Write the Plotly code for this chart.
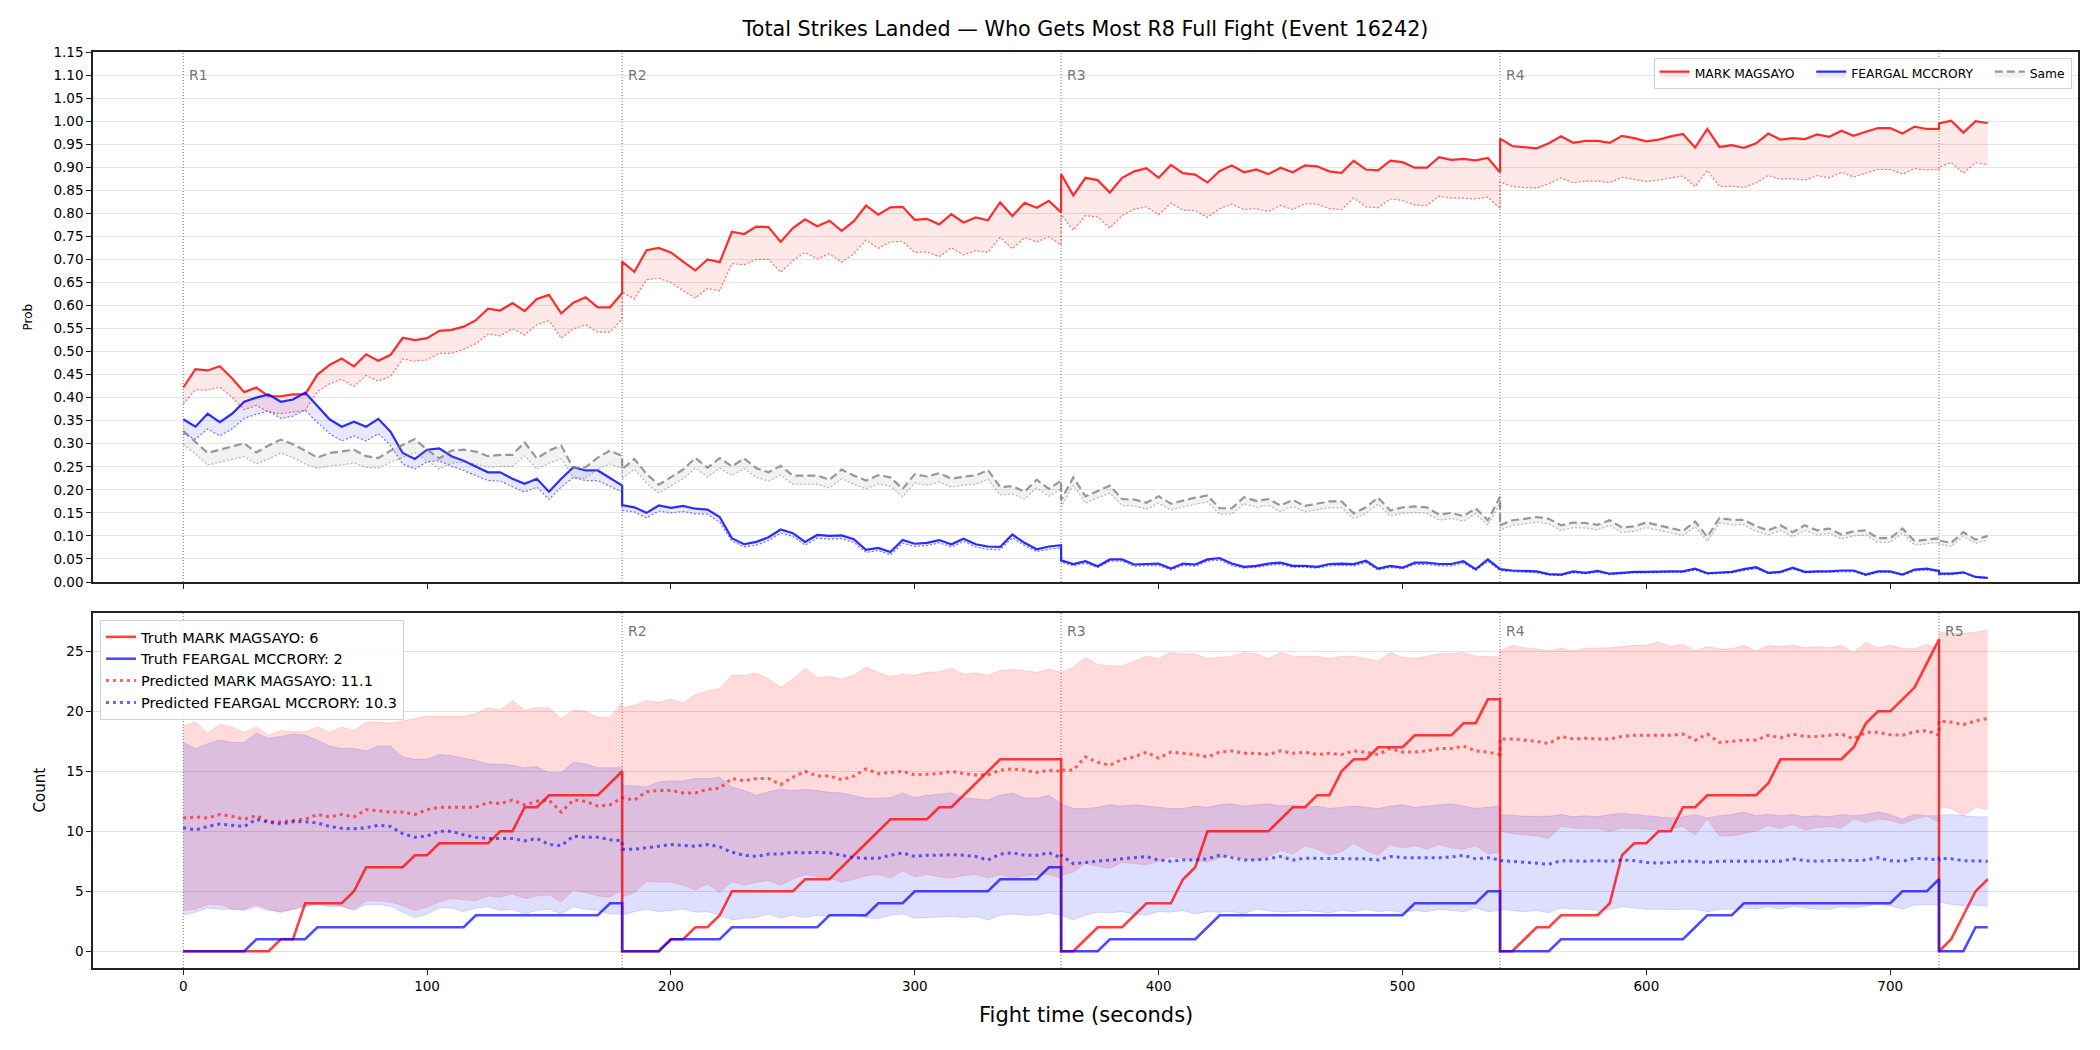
import plotly.graph_objects as go

# ---------------- structure ----------------
ROUND_STARTS = [0, 180, 360, 540, 720]
ROUND_ENDS = [180, 360, 540, 720, 740]
ROUND_LABELS = ["R1", "R2", "R3", "R4", "R5"]
STEP = 5

# ---------------- top panel: probabilities (per round) ----------------
prob_magsayo = [
    [0.422, 0.462, 0.459, 0.468, 0.442, 0.412, 0.422, 0.403, 0.403, 0.407,
     0.407, 0.450, 0.471, 0.485, 0.468, 0.494, 0.480, 0.493, 0.530, 0.525,
     0.529, 0.545, 0.547, 0.554, 0.568, 0.593, 0.589, 0.605, 0.588, 0.614,
     0.623, 0.583, 0.606, 0.618, 0.596, 0.596, 0.627],
    [0.695, 0.673, 0.720, 0.725, 0.715, 0.695, 0.676, 0.700, 0.694, 0.760,
     0.755, 0.771, 0.770, 0.738, 0.768, 0.787, 0.772, 0.784, 0.762, 0.783,
     0.817, 0.797, 0.813, 0.814, 0.786, 0.788, 0.776, 0.798, 0.780, 0.791,
     0.785, 0.824, 0.794, 0.823, 0.812, 0.827, 0.802],
    [0.885, 0.839, 0.877, 0.872, 0.845, 0.877, 0.891, 0.898, 0.877, 0.905,
     0.887, 0.884, 0.867, 0.892, 0.904, 0.889, 0.895, 0.885, 0.899, 0.889,
     0.904, 0.902, 0.891, 0.888, 0.914, 0.895, 0.893, 0.914, 0.911, 0.899,
     0.899, 0.922, 0.916, 0.918, 0.915, 0.920, 0.889],
    [0.962, 0.946, 0.943, 0.941, 0.952, 0.967, 0.953, 0.957, 0.957, 0.953,
     0.968, 0.963, 0.956, 0.960, 0.967, 0.972, 0.943, 0.983, 0.944, 0.948,
     0.942, 0.952, 0.973, 0.960, 0.963, 0.961, 0.971, 0.966, 0.979, 0.968,
     0.977, 0.985, 0.985, 0.973, 0.988, 0.983, 0.983],
    [0.995, 1.001, 0.975, 1.000, 0.996],
]
prob_magsayo_low = [
    [0.386, 0.417, 0.416, 0.423, 0.401, 0.374, 0.383, 0.369, 0.365, 0.369,
     0.372, 0.413, 0.430, 0.440, 0.424, 0.448, 0.436, 0.446, 0.484, 0.479,
     0.482, 0.496, 0.496, 0.505, 0.517, 0.538, 0.534, 0.549, 0.536, 0.558,
     0.567, 0.529, 0.549, 0.558, 0.542, 0.542, 0.571],
    [0.629, 0.614, 0.656, 0.659, 0.650, 0.632, 0.616, 0.637, 0.632, 0.691,
     0.688, 0.700, 0.700, 0.672, 0.697, 0.715, 0.701, 0.712, 0.694, 0.712,
     0.742, 0.724, 0.738, 0.739, 0.715, 0.716, 0.706, 0.725, 0.710, 0.719,
     0.715, 0.748, 0.723, 0.747, 0.738, 0.749, 0.731],
    [0.797, 0.763, 0.795, 0.792, 0.768, 0.795, 0.809, 0.814, 0.797, 0.822,
     0.807, 0.806, 0.791, 0.810, 0.820, 0.808, 0.810, 0.804, 0.817, 0.808,
     0.821, 0.820, 0.810, 0.808, 0.833, 0.814, 0.812, 0.831, 0.828, 0.818,
     0.817, 0.837, 0.833, 0.833, 0.831, 0.835, 0.810],
    [0.868, 0.858, 0.856, 0.855, 0.864, 0.877, 0.866, 0.870, 0.870, 0.867,
     0.878, 0.874, 0.869, 0.872, 0.876, 0.881, 0.858, 0.893, 0.858, 0.859,
     0.856, 0.866, 0.882, 0.874, 0.875, 0.872, 0.882, 0.877, 0.889, 0.879,
     0.887, 0.895, 0.895, 0.885, 0.897, 0.894, 0.895],
    [0.900, 0.910, 0.887, 0.910, 0.905],
]
prob_mccrory = [
    [0.353, 0.337, 0.365, 0.347, 0.365, 0.391, 0.400, 0.407, 0.391, 0.396,
     0.411, 0.382, 0.353, 0.337, 0.348, 0.337, 0.354, 0.326, 0.280, 0.267,
     0.287, 0.290, 0.273, 0.263, 0.251, 0.238, 0.238, 0.224, 0.213, 0.224,
     0.196, 0.224, 0.249, 0.242, 0.242, 0.225, 0.209],
    [0.167, 0.162, 0.150, 0.166, 0.161, 0.165, 0.159, 0.157, 0.141, 0.095,
     0.082, 0.087, 0.097, 0.114, 0.106, 0.087, 0.102, 0.100, 0.101, 0.093,
     0.070, 0.074, 0.065, 0.091, 0.083, 0.085, 0.091, 0.082, 0.094, 0.082,
     0.077, 0.076, 0.103, 0.085, 0.071, 0.077, 0.080],
    [0.047, 0.039, 0.045, 0.034, 0.049, 0.049, 0.038, 0.039, 0.040, 0.029,
     0.040, 0.038, 0.049, 0.052, 0.040, 0.033, 0.035, 0.040, 0.042, 0.035,
     0.035, 0.033, 0.039, 0.040, 0.039, 0.046, 0.029, 0.035, 0.031, 0.042,
     0.042, 0.039, 0.039, 0.045, 0.028, 0.049, 0.028],
    [0.028, 0.025, 0.024, 0.023, 0.017, 0.016, 0.023, 0.020, 0.024, 0.018,
     0.020, 0.022, 0.022, 0.023, 0.023, 0.023, 0.029, 0.019, 0.021, 0.022,
     0.028, 0.032, 0.020, 0.022, 0.031, 0.022, 0.023, 0.023, 0.025, 0.025,
     0.016, 0.023, 0.023, 0.016, 0.027, 0.029, 0.024],
    [0.018, 0.018, 0.021, 0.011, 0.009],
]
prob_mccrory_low = [
    [0.322, 0.310, 0.332, 0.317, 0.332, 0.355, 0.364, 0.371, 0.355, 0.360,
     0.373, 0.346, 0.322, 0.306, 0.317, 0.306, 0.322, 0.296, 0.256, 0.245,
     0.261, 0.263, 0.251, 0.242, 0.231, 0.220, 0.219, 0.207, 0.195, 0.206,
     0.179, 0.206, 0.227, 0.220, 0.220, 0.208, 0.195],
    [0.155, 0.152, 0.139, 0.154, 0.150, 0.153, 0.148, 0.147, 0.130, 0.089,
     0.076, 0.080, 0.090, 0.106, 0.099, 0.080, 0.095, 0.093, 0.094, 0.086,
     0.064, 0.068, 0.059, 0.084, 0.077, 0.079, 0.085, 0.076, 0.088, 0.076,
     0.071, 0.070, 0.096, 0.079, 0.066, 0.071, 0.074],
    [0.043, 0.035, 0.041, 0.031, 0.045, 0.045, 0.034, 0.035, 0.036, 0.026,
     0.036, 0.034, 0.045, 0.048, 0.036, 0.030, 0.032, 0.036, 0.038, 0.032,
     0.032, 0.030, 0.035, 0.036, 0.035, 0.042, 0.026, 0.032, 0.028, 0.038,
     0.038, 0.035, 0.035, 0.041, 0.025, 0.045, 0.025],
    [0.025, 0.022, 0.021, 0.020, 0.015, 0.014, 0.020, 0.018, 0.021, 0.016,
     0.018, 0.020, 0.020, 0.021, 0.021, 0.021, 0.026, 0.017, 0.019, 0.020,
     0.025, 0.029, 0.018, 0.020, 0.028, 0.020, 0.021, 0.021, 0.022, 0.022,
     0.014, 0.021, 0.021, 0.014, 0.024, 0.026, 0.022],
    [0.016, 0.016, 0.019, 0.010, 0.008],
]
prob_same = [
    [0.328, 0.304, 0.280, 0.287, 0.294, 0.301, 0.281, 0.296, 0.309, 0.299,
     0.285, 0.270, 0.280, 0.283, 0.287, 0.273, 0.269, 0.285, 0.297, 0.310,
     0.287, 0.268, 0.285, 0.287, 0.283, 0.273, 0.276, 0.276, 0.303, 0.268,
     0.285, 0.296, 0.247, 0.249, 0.270, 0.285, 0.273],
    [0.245, 0.267, 0.234, 0.211, 0.227, 0.244, 0.269, 0.248, 0.269, 0.251,
     0.268, 0.247, 0.238, 0.252, 0.231, 0.231, 0.231, 0.222, 0.244, 0.231,
     0.220, 0.232, 0.227, 0.202, 0.234, 0.229, 0.236, 0.224, 0.229, 0.231,
     0.243, 0.206, 0.208, 0.196, 0.222, 0.202, 0.220],
    [0.178, 0.227, 0.186, 0.198, 0.209, 0.180, 0.179, 0.172, 0.186, 0.170,
     0.177, 0.183, 0.188, 0.160, 0.160, 0.184, 0.176, 0.180, 0.166, 0.178,
     0.165, 0.170, 0.175, 0.175, 0.149, 0.162, 0.183, 0.155, 0.162, 0.164,
     0.162, 0.146, 0.150, 0.143, 0.160, 0.134, 0.185],
    [0.123, 0.134, 0.137, 0.141, 0.137, 0.123, 0.129, 0.128, 0.124, 0.134,
     0.118, 0.121, 0.129, 0.123, 0.118, 0.111, 0.131, 0.098, 0.139, 0.135,
     0.135, 0.121, 0.112, 0.123, 0.108, 0.123, 0.112, 0.116, 0.103, 0.110,
     0.112, 0.095, 0.095, 0.116, 0.089, 0.092, 0.095],
    [0.090, 0.085, 0.108, 0.092, 0.100],
]
prob_same_low = [
    [0.299, 0.278, 0.254, 0.260, 0.265, 0.272, 0.256, 0.267, 0.280, 0.270,
     0.256, 0.247, 0.252, 0.254, 0.258, 0.249, 0.247, 0.260, 0.270, 0.281,
     0.263, 0.245, 0.258, 0.260, 0.256, 0.249, 0.251, 0.251, 0.274, 0.245,
     0.258, 0.267, 0.227, 0.225, 0.245, 0.256, 0.247],
    [0.224, 0.245, 0.214, 0.193, 0.208, 0.224, 0.247, 0.228, 0.247, 0.231,
     0.246, 0.227, 0.219, 0.232, 0.212, 0.212, 0.212, 0.204, 0.224, 0.212,
     0.202, 0.213, 0.208, 0.185, 0.215, 0.210, 0.217, 0.206, 0.210, 0.212,
     0.223, 0.189, 0.191, 0.180, 0.204, 0.186, 0.202],
    [0.163, 0.210, 0.171, 0.183, 0.193, 0.166, 0.165, 0.158, 0.171, 0.156,
     0.163, 0.169, 0.174, 0.147, 0.147, 0.170, 0.162, 0.166, 0.153, 0.164,
     0.152, 0.157, 0.161, 0.161, 0.137, 0.149, 0.169, 0.143, 0.149, 0.151,
     0.149, 0.134, 0.138, 0.132, 0.148, 0.123, 0.170],
    [0.112, 0.123, 0.126, 0.130, 0.126, 0.112, 0.118, 0.117, 0.113, 0.123,
     0.107, 0.110, 0.118, 0.112, 0.107, 0.101, 0.120, 0.088, 0.128, 0.124,
     0.124, 0.110, 0.102, 0.112, 0.098, 0.112, 0.102, 0.106, 0.093, 0.100,
     0.102, 0.086, 0.086, 0.106, 0.080, 0.083, 0.086],
    [0.082, 0.077, 0.099, 0.084, 0.091],
]

# ---------------- bottom panel: counts (per round) ----------------
truth_magsayo = [
    [0, 0, 0, 0, 0, 0, 0, 0, 1, 1, 4, 4, 4, 4, 5, 7, 7, 7, 7, 8,
     8, 9, 9, 9, 9, 9, 10, 10, 12, 12, 13, 13, 13, 13, 13, 14, 15],
    [0, 0, 0, 0, 1, 1, 2, 2, 3, 5, 5, 5, 5, 5, 5, 6, 6, 6, 7, 8,
     9, 10, 11, 11, 11, 11, 12, 12, 13, 14, 15, 16, 16, 16, 16, 16, 16],
    [0, 0, 1, 2, 2, 2, 3, 4, 4, 4, 6, 7, 10, 10, 10, 10, 10, 10, 11, 12,
     12, 13, 13, 15, 16, 16, 17, 17, 17, 18, 18, 18, 18, 19, 19, 21, 21],
    [0, 0, 1, 2, 2, 3, 3, 3, 3, 4, 8, 9, 9, 10, 10, 12, 12, 13, 13, 13,
     13, 13, 14, 16, 16, 16, 16, 16, 16, 17, 19, 20, 20, 21, 22, 24, 26],
    [0, 1, 3, 5, 6],
]
truth_mccrory = [
    [0, 0, 0, 0, 0, 0, 1, 1, 1, 1, 1, 2, 2, 2, 2, 2, 2, 2, 2, 2,
     2, 2, 2, 2, 3, 3, 3, 3, 3, 3, 3, 3, 3, 3, 3, 4, 4],
    [0, 0, 0, 0, 1, 1, 1, 1, 1, 2, 2, 2, 2, 2, 2, 2, 2, 3, 3, 3,
     3, 4, 4, 4, 5, 5, 5, 5, 5, 5, 5, 6, 6, 6, 6, 7, 7],
    [0, 0, 0, 0, 1, 1, 1, 1, 1, 1, 1, 1, 2, 3, 3, 3, 3, 3, 3, 3,
     3, 3, 3, 3, 3, 3, 3, 3, 3, 4, 4, 4, 4, 4, 4, 5, 5],
    [0, 0, 0, 0, 0, 1, 1, 1, 1, 1, 1, 1, 1, 1, 1, 1, 2, 3, 3, 3,
     4, 4, 4, 4, 4, 4, 4, 4, 4, 4, 4, 4, 4, 5, 5, 5, 6],
    [0, 0, 0, 2, 2],
]
pred_magsayo = [
    [11.1, 11.2, 11.1, 11.4, 11.25, 11.0, 11.3, 10.8, 10.8, 10.9,
     11.0, 11.4, 11.2, 11.4, 11.2, 11.8, 11.7, 11.6, 11.6, 11.4,
     11.8, 12.0, 12.0, 12.0, 12.0, 12.4, 12.3, 12.6, 12.2, 12.5,
     12.6, 11.6, 12.6, 12.5, 12.1, 12.2, 12.8],
    [12.8, 12.6, 13.3, 13.4, 13.4, 13.2, 13.2, 13.5, 13.6, 14.4,
     14.2, 14.4, 14.4, 13.9, 14.5, 15.0, 14.6, 14.6, 14.3, 14.6,
     15.2, 14.8, 14.9, 15.0, 14.7, 14.75, 14.8, 15.0, 14.8, 14.7,
     14.7, 15.1, 15.2, 15.1, 14.9, 15.1, 15.0],
    [15.1, 15.1, 16.2, 15.75, 15.5, 16.0, 16.2, 16.6, 16.1, 16.6,
     16.5, 16.4, 16.2, 16.6, 16.7, 16.5, 16.5, 16.4, 16.7, 16.5,
     16.6, 16.4, 16.5, 16.4, 16.7, 16.6, 16.4, 16.9, 16.6, 16.6,
     16.7, 16.9, 16.9, 17.1, 16.7, 16.6, 16.4],
    [17.7, 17.7, 17.6, 17.5, 17.3, 17.9, 17.7, 17.75, 17.7, 17.7,
     17.9, 18.0, 18.0, 18.0, 18.0, 18.1, 17.6, 18.1, 17.4, 17.5,
     17.6, 17.6, 18.0, 17.8, 18.1, 17.9, 17.9, 18.0, 18.1, 17.7,
     18.25, 18.25, 18.05, 18.0, 18.3, 18.4, 18.0],
    [19.2, 19.1, 18.9, 19.2, 19.4],
]
pred_magsayo_high = [
    [18.8, 19.1, 18.2, 18.9, 18.7, 18.25, 18.7, 18.0, 18.4, 18.3,
     18.3, 18.7, 18.25, 18.7, 18.4, 19.1, 19.1, 19.0, 19.2, 19.4,
     19.6, 19.6, 19.6, 19.6, 19.8, 20.3, 20.1, 20.9, 20.1, 20.3,
     20.3, 19.4, 20.1, 20.0, 19.5, 19.5, 20.75],
    [20.3, 20.5, 20.9, 20.75, 21.0, 20.7, 21.4, 21.7, 21.9, 23.0,
     23.0, 23.2, 22.7, 22.0, 22.7, 23.6, 22.8, 22.9, 22.7, 23.0,
     23.7, 23.25, 22.9, 23.1, 23.0, 23.25, 23.3, 23.6, 23.1, 23.2,
     23.0, 23.4, 23.5, 23.4, 23.25, 23.5, 23.25],
    [23.25, 23.7, 24.5, 23.9, 23.8, 23.8, 24.2, 24.6, 24.4, 24.9,
     24.8, 24.8, 24.4, 24.5, 24.6, 24.9, 24.8, 24.4, 24.9, 24.6,
     24.6, 24.6, 24.4, 24.6, 24.6, 24.4, 24.2, 24.9, 24.5, 24.4,
     24.6, 24.8, 24.8, 24.9, 24.6, 24.6, 24.5],
    [25.05, 25.5, 25.3, 25.2, 25.05, 25.25, 25.05, 25.25, 25.25, 25.3,
     25.4, 25.5, 25.5, 25.8, 25.4, 25.6, 25.05, 25.4, 25.2, 25.2,
     25.5, 25.05, 25.5, 25.4, 25.5, 25.3, 25.4, 25.3, 25.5, 24.9,
     25.75, 25.3, 25.5, 25.25, 25.2, 25.6, 25.2],
    [26.6, 26.5, 26.5, 26.6, 26.8],
]
pred_magsayo_low = [
    [3.4, 3.5, 3.9, 3.9, 3.5, 3.5, 3.9, 3.5, 3.2, 3.5,
     3.7, 3.9, 3.9, 3.75, 3.5, 4.2, 4.2, 4.1, 3.8, 3.4,
     3.7, 4.1, 4.4, 4.3, 4.2, 4.6, 4.5, 4.8, 4.4, 4.6,
     4.7, 4.1, 5.1, 4.9, 4.6, 4.5, 5.1],
    [4.5, 4.9, 5.8, 5.8, 5.75, 5.5, 5.1, 5.6, 4.9, 5.8,
     5.5, 5.75, 5.9, 5.5, 6.0, 6.4, 6.2, 6.1, 5.75, 6.0,
     6.3, 6.4, 6.1, 6.7, 6.2, 6.4, 6.2, 6.1, 6.3, 6.4,
     6.1, 6.4, 6.1, 6.3, 6.4, 6.4, 6.1],
    [6.3, 6.6, 7.3, 7.1, 6.9, 7.4, 7.3, 7.2, 7.5, 7.9,
     7.7, 7.6, 7.4, 7.8, 8.0, 7.7, 7.6, 7.9, 8.4, 8.1,
     8.8, 8.5, 8.0, 8.3, 9.0, 8.4, 8.0, 8.9, 8.6, 8.8,
     8.5, 8.9, 8.6, 8.5, 8.8, 8.1, 8.25],
    [10.0, 9.8, 9.7, 9.6, 9.4, 10.4, 10.25, 10.25, 10.2, 10.0,
     10.25, 10.25, 10.2, 10.1, 10.2, 10.4, 9.7, 11.0, 9.6, 9.6,
     9.8, 10.0, 10.5, 10.2, 10.6, 10.1, 10.3, 10.4, 10.25, 11.0,
     10.75, 11.0, 10.9, 10.6, 11.0, 11.25, 10.75],
    [12.0, 11.9, 11.3, 12.0, 11.8],
]
pred_mccrory = [
    [10.3, 10.1, 10.4, 10.6, 10.5, 10.4, 11.0, 10.75, 10.6, 10.8,
     10.8, 10.7, 10.4, 10.25, 10.2, 10.3, 10.5, 10.4, 9.8, 9.5,
     9.6, 10.0, 10.0, 9.7, 9.5, 9.4, 9.4, 9.4, 9.2, 9.4,
     8.9, 8.8, 9.6, 9.5, 9.5, 9.3, 9.2],
    [8.5, 8.5, 8.6, 8.75, 8.9, 8.8, 8.75, 8.9, 8.7, 8.25,
     8.0, 7.9, 8.1, 8.1, 8.25, 8.2, 8.25, 8.2, 8.0, 7.8,
     7.75, 7.75, 8.0, 8.2, 7.9, 8.0, 8.0, 8.05, 8.0, 7.9,
     7.6, 8.1, 8.2, 8.0, 8.0, 8.2, 7.8],
    [8.0, 7.3, 7.4, 7.5, 7.6, 7.75, 7.8, 7.9, 7.6, 7.5,
     7.6, 7.6, 7.7, 8.0, 7.8, 7.6, 7.6, 7.7, 7.9, 7.6,
     7.75, 7.75, 7.7, 7.75, 7.75, 7.7, 7.6, 7.9, 7.8, 7.8,
     7.75, 7.8, 7.85, 8.0, 7.7, 7.8, 7.6],
    [7.55, 7.5, 7.4, 7.35, 7.25, 7.55, 7.5, 7.5, 7.55, 7.5,
     7.6, 7.55, 7.4, 7.35, 7.4, 7.5, 7.5, 7.4, 7.5, 7.5,
     7.5, 7.5, 7.5, 7.5, 7.7, 7.55, 7.5, 7.55, 7.6, 7.55,
     7.6, 7.8, 7.55, 7.5, 7.75, 7.7, 7.6],
    [7.75, 7.7, 7.55, 7.55, 7.5],
]
pred_mccrory_high = [
    [17.4, 16.9, 17.3, 17.6, 17.4, 17.4, 18.2, 17.75, 17.9, 18.1,
     18.0, 17.6, 17.1, 16.9, 16.9, 16.7, 17.1, 17.1, 16.2, 16.0,
     16.0, 16.4, 16.3, 16.1, 15.9, 15.6, 15.6, 15.5, 15.3, 15.4,
     14.9, 14.9, 15.75, 15.6, 15.3, 15.3, 15.3],
    [13.8, 13.8, 13.7, 14.1, 14.2, 14.2, 14.4, 14.4, 14.5, 13.7,
     13.4, 13.0, 13.3, 13.5, 13.4, 13.5, 13.4, 13.25, 13.2, 13.0,
     12.75, 12.75, 12.8, 13.2, 12.8, 13.0, 13.1, 13.2, 12.8, 12.7,
     12.6, 13.0, 13.2, 12.8, 12.75, 13.0, 12.3],
    [12.3, 11.9, 11.9, 12.0, 12.2, 12.1, 12.2, 12.1, 12.0, 11.9,
     11.9, 12.1, 12.0, 12.2, 12.3, 12.1, 12.2, 12.3, 12.1, 12.2,
     12.0, 12.1, 11.9, 12.0, 12.1, 12.0, 11.9, 12.1, 12.2, 12.0,
     12.1, 12.2, 12.3, 12.1, 11.9, 12.0, 12.1],
    [11.4, 11.3, 11.25, 11.25, 11.25, 11.4, 11.2, 11.3, 11.2, 11.4,
     11.5, 11.4, 11.3, 11.2, 11.1, 11.2, 11.4, 11.1, 11.3, 11.4,
     11.6, 11.3, 11.4, 11.3, 11.4, 11.2, 11.3, 11.2, 11.4, 11.3,
     11.4, 11.6, 11.4, 11.0, 11.4, 11.3, 11.3],
    [11.3, 11.4, 11.3, 11.2, 11.2],
]
pred_mccrory_low = [
    [3.0, 3.25, 3.6, 3.5, 3.5, 3.4, 3.7, 3.4, 3.3, 3.5,
     3.8, 3.9, 3.7, 3.75, 3.4, 3.9, 3.9, 3.75, 3.25, 2.8,
     3.1, 3.6, 3.6, 3.3, 3.6, 3.7, 3.4, 3.5, 3.1, 3.4,
     3.5, 3.1, 3.7, 3.5, 3.4, 3.1, 3.1],
    [3.0, 3.3, 3.5, 3.3, 3.4, 3.5, 3.25, 3.3, 3.0, 2.6,
     2.75, 2.8, 3.1, 2.75, 3.0, 2.8, 3.0, 2.9, 3.1, 3.0,
     2.8, 2.7, 3.0, 3.1, 2.75, 2.8, 2.8, 2.9, 2.8, 2.9,
     2.6, 3.0, 3.1, 3.0, 3.0, 3.2, 3.0],
    [3.0, 2.6, 3.0, 3.25, 3.2, 3.3, 3.1, 3.0, 3.3, 3.25,
     3.4, 3.1, 3.3, 3.25, 3.3, 3.1, 3.5, 3.4, 3.25, 3.3,
     3.4, 3.3, 3.2, 3.4, 3.3, 3.5, 3.3, 3.4, 3.2, 3.4,
     3.3, 3.5, 3.4, 3.3, 3.6, 3.3, 3.4],
    [3.5, 3.4, 3.3, 3.4, 3.2, 3.6, 3.5, 3.5, 3.4, 3.5,
     3.7, 3.6, 3.5, 3.5, 3.45, 3.5, 3.5, 3.3, 3.5, 3.5,
     3.6, 3.5, 3.7, 3.5, 3.75, 3.6, 3.5, 3.5, 3.7, 3.6,
     3.75, 3.9, 3.8, 3.5, 3.85, 3.9, 3.85],
    [4.1, 3.9, 3.8, 3.85, 3.75],
]

NAME_A = "MARK MAGSAYO"
NAME_B = "FEARGAL MCCRORY"

# ---------------- helpers ----------------
times = [t for a, b in zip(ROUND_STARTS, ROUND_ENDS) for t in range(a, b + 1, STEP)]


def flat(rounds):
    return [v for r in rounds for v in r]


FONT = "DejaVu Sans"
RED = "rgba(255,0,0,0.82)"
BLUE = "rgba(0,0,255,0.82)"
GRAY = "rgba(128,128,128,0.8)"
NBSP = "\u00a0"

fig = go.Figure()


def band(lo, hi, xa, ya, fill, edge, lo_style=None, hi_style=None, name=None,
         legend="legend", showlegend=False):
    lo_line = lo_style or dict(color=edge, width=1)
    hi_line = hi_style or dict(color=edge, width=1)
    fig.add_trace(go.Scatter(x=times, y=flat(lo), mode="lines", line=lo_line,
                             xaxis=xa, yaxis=ya, showlegend=False, hoverinfo="skip"))
    fig.add_trace(go.Scatter(x=times, y=flat(hi), mode="lines", line=hi_line,
                             fill="tonexty", fillcolor=fill, xaxis=xa, yaxis=ya,
                             name=name, showlegend=showlegend, legend=legend))


# ---- top panel ----
band(prob_magsayo_low, prob_magsayo, "x", "y", "rgba(255,0,0,0.09)", None,
     lo_style=dict(color="rgba(255,0,0,0.55)", width=1.2, dash="2px,2px"),
     hi_style=dict(color=RED, width=2.2), name=NAME_A + NBSP * 3, showlegend=True)
band(prob_mccrory_low, prob_mccrory, "x", "y", "rgba(0,0,255,0.09)", None,
     lo_style=dict(color="rgba(0,0,255,0.55)", width=1.2, dash="2px,2px"),
     hi_style=dict(color=BLUE, width=2.2), name=NAME_B + NBSP * 3, showlegend=True)
band(prob_same_low, prob_same, "x", "y", "rgba(128,128,128,0.1)", None,
     lo_style=dict(color="rgba(128,128,128,0.55)", width=1.2, dash="2px,2px"),
     hi_style=dict(color=GRAY, width=2.2, dash="8px,4px"), name="Same", showlegend=True)

# ---- bottom panel ----
band(pred_magsayo_low, pred_magsayo_high, "x2", "y2", "rgba(255,0,0,0.14)",
     "rgba(255,0,0,0.12)")
band(pred_mccrory_low, pred_mccrory_high, "x2", "y2", "rgba(0,0,255,0.13)",
     "rgba(0,0,255,0.12)")

fig.add_trace(go.Scatter(x=times, y=flat(truth_magsayo), mode="lines",
                         line=dict(color="rgba(255,0,0,0.75)", width=2.6),
                         xaxis="x2", yaxis="y2", legend="legend2",
                         name=f"Truth {NAME_A}: {truth_magsayo[-1][-1]}"))
fig.add_trace(go.Scatter(x=times, y=flat(truth_mccrory), mode="lines",
                         line=dict(color="rgba(0,0,255,0.7)", width=2.6),
                         xaxis="x2", yaxis="y2", legend="legend2",
                         name=f"Truth {NAME_B}: {truth_mccrory[-1][-1]}"))
fig.add_trace(go.Scatter(x=times, y=flat(pred_magsayo), mode="lines",
                         line=dict(color="rgba(255,0,0,0.6)", width=3, dash="3px,4px"),
                         xaxis="x2", yaxis="y2", legend="legend2",
                         name=f"Predicted {NAME_A}: {pred_magsayo[0][0]:.1f}"))
fig.add_trace(go.Scatter(x=times, y=flat(pred_mccrory), mode="lines",
                         line=dict(color="rgba(0,0,255,0.6)", width=3, dash="3px,4px"),
                         xaxis="x2", yaxis="y2", legend="legend2",
                         name=f"Predicted {NAME_B}: {pred_mccrory[0][0]:.1f}"))

# ---- round markers ----
shapes = []
annotations = []
LABEL_COL = "rgba(90,90,90,0.85)"
for start, lab in zip(ROUND_STARTS, ROUND_LABELS):
    for xr, yr in (("x", "y domain"), ("x2", "y2 domain")):
        shapes.append(dict(type="line", xref=xr, yref=yr,
                           x0=start, x1=start, y0=0, y1=1,
                           line=dict(color="rgba(80,80,80,0.75)", width=1, dash="1px,2px"),
                           layer="above"))
    # labels that sit behind a legend box in the reference are left out
    if start != 720:
        annotations.append(dict(x=start + 1.5, y=1.10, xref="x", yref="y", text=lab,
                                showarrow=False, xanchor="left", yanchor="middle",
                                font=dict(family=FONT, size=14, color=LABEL_COL)))
    if start != 0:
        annotations.append(dict(x=start + 1.5, y=26.7, xref="x2", yref="y2", text=lab,
                                showarrow=False, xanchor="left", yanchor="middle",
                                font=dict(family=FONT, size=14, color=LABEL_COL)))

annotations += [
    dict(text="Prob", x=-0.0325, y=0.7107, xref="paper", yref="paper", showarrow=False,
         xanchor="center", yanchor="middle", textangle=-90,
         font=dict(family=FONT, size=12, color="#000")),
    dict(text="Count", x=-0.0267, y=0.1938, xref="paper", yref="paper", showarrow=False,
         xanchor="center", yanchor="middle", textangle=-90,
         font=dict(family=FONT, size=15, color="#000")),
    dict(text="Fight time (seconds)", x=0.5, y=-0.0513, xref="paper", yref="paper",
         showarrow=False, xanchor="center", yanchor="middle",
         font=dict(family=FONT, size=21, color="#000")),
]

axis_common = dict(showline=True, mirror=True, linecolor="#222", linewidth=1.5,
                   ticks="outside", ticklen=5, tickcolor="#222", zeroline=False,
                   tickfont=dict(family=FONT, size=13.5, color="#000"))
xticks = [0, 100, 200, 300, 400, 500, 600, 700]
yticks_top = [round(i * 0.05, 2) for i in range(24)]

fig.update_layout(
    width=2100, height=1050,
    margin=dict(l=93, r=22, t=52, b=82),
    paper_bgcolor="white", plot_bgcolor="white",
    font=dict(family=FONT, color="#000"),
    title=dict(text="Total Strikes Landed \u2014 Who Gets Most R8 Full Fight (Event 16242)",
               x=0.5, xref="paper", y=1 - 29 / 1050, yref="container",
               xanchor="center", yanchor="middle",
               font=dict(family=FONT, size=20.7, color="#000")),
    xaxis=dict(domain=[0, 1], anchor="y", range=[-37, 777], tickvals=xticks,
               showticklabels=False, showgrid=False, matches="x2", **axis_common),
    yaxis=dict(domain=[0.4214, 1], anchor="x", range=[0, 1.15], tickvals=yticks_top,
               ticktext=[f"{v:.2f}" for v in yticks_top], showgrid=True,
               gridcolor="#e6e6e6", gridwidth=1, **axis_common),
    xaxis2=dict(domain=[0, 1], anchor="y2", range=[-37, 777], tickvals=xticks,
                showgrid=False, **axis_common),
    yaxis2=dict(domain=[0, 0.3876], anchor="x2", range=[-1.4, 28.2],
                tickvals=[0, 5, 10, 15, 20, 25], showgrid=True, gridcolor="#e2e2e2",
                gridwidth=1, **axis_common),
    legend=dict(orientation="h", x=0.9968, xanchor="right", y=0.9934, yanchor="top",
                traceorder="normal",
                font=dict(family=FONT, size=12.3, color="#000"),
                bgcolor="rgba(255,255,255,0.85)",
                bordercolor="#d0d0d0", borderwidth=1, itemwidth=30, tracegroupgap=0),
    legend2=dict(orientation="v", x=0.0035, xanchor="left", y=0.380, yanchor="top",
                 traceorder="normal",
                 font=dict(family=FONT, size=14.5, color="#000"),
                 bgcolor="rgba(255,255,255,0.85)",
                 bordercolor="#d0d0d0", borderwidth=1, itemwidth=30, tracegroupgap=0),
    shapes=shapes,
    annotations=annotations,
    showlegend=True,
)

fig.write_html("out.html")
